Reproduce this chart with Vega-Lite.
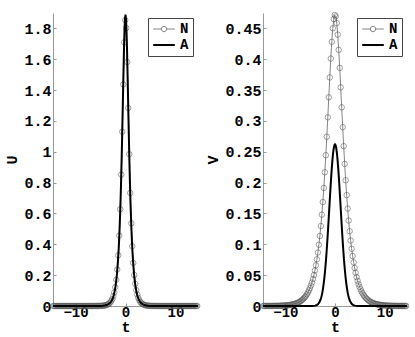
{
  "$schema": "https://vega.github.io/schema/vega-lite/v6.json",
  "background": "white",
  "padding": {"left": 4, "top": 10, "right": 3, "bottom": 1},
  "config": {
    "view": {"stroke": null},
    "font": "Liberation Mono",
    "axis": {
      "labelFont": "Liberation Mono", "labelFontWeight": "bold", "labelFontSize": 15, "labelColor": "black",
      "titleFont": "Liberation Mono", "titleFontWeight": "bold", "titleFontSize": 15, "titleColor": "black",
      "domainColor": "#999999", "tickColor": "#999999", "tickSize": -3, "grid": false, "labelPadding": 5,
      "labelFlush": false, "format": "~g"
    },
    "axisX": {"labelPadding": 2, "titlePadding": 0, "labelFontSize": 14, "format": "d"},
    "legend": {
      "orient": "top-right", "offset": 5, "strokeColor": "#444444", "fillColor": "white", "padding": 4,
      "rowPadding": 2, "labelFont": "Liberation Mono", "labelFontWeight": "bold", "labelFontSize": 14,
      "labelColor": "black", "symbolSize": 144, "labelOffset": 9, "symbolOffset": 5
    }
  },
  "datasets": {
    "N": [
      {"t":-14.45,"U":0,"V":0.0001},{"t":-14.25,"U":0,"V":0.0001},{"t":-14.05,"U":0,"V":0.0001},{"t":-13.85,"U":0,"V":0.0001},
      {"t":-13.65,"U":0,"V":0.0001},{"t":-13.45,"U":0,"V":0.0001},{"t":-13.25,"U":0,"V":0.0001},{"t":-13.05,"U":0,"V":0.0001},
      {"t":-12.85,"U":0,"V":0.0001},{"t":-12.65,"U":0,"V":0.0001},{"t":-12.45,"U":0,"V":0.0001},{"t":-12.25,"U":0,"V":0.0002},
      {"t":-12.05,"U":0,"V":0.0002},{"t":-11.85,"U":0,"V":0.0002},{"t":-11.65,"U":0,"V":0.0003},{"t":-11.45,"U":0,"V":0.0003},
      {"t":-11.25,"U":0,"V":0.0004},{"t":-11.05,"U":0,"V":0.0004},{"t":-10.85,"U":0,"V":0.0005},{"t":-10.65,"U":0,"V":0.0006},
      {"t":-10.45,"U":0,"V":0.0007},{"t":-10.25,"U":0,"V":0.0008},{"t":-10.05,"U":0,"V":0.0009},{"t":-9.85,"U":0,"V":0.0010},
      {"t":-9.65,"U":0,"V":0.0012},{"t":-9.45,"U":0,"V":0.0014},{"t":-9.25,"U":0,"V":0.0016},{"t":-9.05,"U":0,"V":0.0018},
      {"t":-8.85,"U":0,"V":0.0021},{"t":-8.65,"U":0,"V":0.0024},{"t":-8.45,"U":0,"V":0.0028},{"t":-8.25,"U":0,"V":0.0032},
      {"t":-8.05,"U":0,"V":0.0036},{"t":-7.85,"U":0,"V":0.0042},{"t":-7.65,"U":0,"V":0.0048},{"t":-7.45,"U":0,"V":0.0055},
      {"t":-7.25,"U":0,"V":0.0063},{"t":-7.05,"U":0,"V":0.0073},{"t":-6.85,"U":0,"V":0.0083},{"t":-6.65,"U":0.0001,"V":0.0096},
      {"t":-6.45,"U":0.0001,"V":0.0110},{"t":-6.25,"U":0.0001,"V":0.0126},{"t":-6.05,"U":0.0002,"V":0.0145},{"t":-5.85,"U":0.0002,"V":0.0166},
      {"t":-5.65,"U":0.0003,"V":0.0191},{"t":-5.45,"U":0.0004,"V":0.0219},{"t":-5.25,"U":0.0006,"V":0.0252},{"t":-5.05,"U":0.0008,"V":0.0289},
      {"t":-4.85,"U":0.0011,"V":0.0332},{"t":-4.65,"U":0.0016,"V":0.0381},{"t":-4.45,"U":0.0022,"V":0.0437},{"t":-4.25,"U":0.0031,"V":0.0502},
      {"t":-4.05,"U":0.0044,"V":0.0576},{"t":-3.85,"U":0.0061,"V":0.0660},{"t":-3.65,"U":0.0085,"V":0.0757},{"t":-3.45,"U":0.0118,"V":0.0867},
      {"t":-3.25,"U":0.0165,"V":0.0992},{"t":-3.05,"U":0.0230,"V":0.1135},{"t":-2.85,"U":0.0322,"V":0.1297},{"t":-2.65,"U":0.0449,"V":0.1480},
      {"t":-2.45,"U":0.0627,"V":0.1685},{"t":-2.25,"U":0.0875,"V":0.1914},{"t":-2.05,"U":0.122,"V":0.2168},{"t":-1.85,"U":0.170,"V":0.2445},
      {"t":-1.65,"U":0.237,"V":0.2744},{"t":-1.45,"U":0.329,"V":0.3059},{"t":-1.25,"U":0.456,"V":0.3383},{"t":-1.05,"U":0.628,"V":0.3705},
      {"t":-0.85,"U":0.852,"V":0.4011},{"t":-0.65,"U":1.130,"V":0.4283},{"t":-0.45,"U":1.437,"V":0.4502},{"t":-0.25,"U":1.710,"V":0.4651},
      {"t":-0.05,"U":1.854,"V":0.4717},
      {"t":0.15,"U":1.803,"V":0.4695},{"t":0.35,"U":1.582,"V":0.4586},{"t":0.55,"U":1.284,"V":0.4400},{"t":0.75,"U":0.985,"V":0.4152},
      {"t":0.95,"U":0.733,"V":0.3861},{"t":1.15,"U":0.536,"V":0.3545},{"t":1.35,"U":0.388,"V":0.3221},{"t":1.55,"U":0.279,"V":0.2899},
      {"t":1.75,"U":0.201,"V":0.2592},{"t":1.95,"U":0.144,"V":0.2304},{"t":2.15,"U":0.103,"V":0.2038},{"t":2.35,"U":0.0740,"V":0.1797},
      {"t":2.55,"U":0.0530,"V":0.1579},{"t":2.75,"U":0.0380,"V":0.1386},{"t":2.95,"U":0.0272,"V":0.1213},{"t":3.15,"U":0.0195,"V":0.1061},
      {"t":3.35,"U":0.0140,"V":0.0928},{"t":3.55,"U":0.0100,"V":0.0810},{"t":3.75,"U":0.0072,"V":0.0707},{"t":3.95,"U":0.0051,"V":0.0617},
      {"t":4.15,"U":0.0037,"V":0.0538},{"t":4.35,"U":0.0026,"V":0.0468},{"t":4.55,"U":0.0019,"V":0.0408},{"t":4.75,"U":0.0014,"V":0.0355},
      {"t":4.95,"U":0.0010,"V":0.0310},{"t":5.15,"U":0.0007,"V":0.0270},{"t":5.35,"U":0.0005,"V":0.0235},{"t":5.55,"U":0.0004,"V":0.0205},
      {"t":5.75,"U":0.0003,"V":0.0178},{"t":5.95,"U":0.0002,"V":0.0155},{"t":6.15,"U":0.0001,"V":0.0135},{"t":6.35,"U":0.0001,"V":0.0118},
      {"t":6.55,"U":0.0001,"V":0.0103},{"t":6.75,"U":0,"V":0.0089},{"t":6.95,"U":0,"V":0.0078},{"t":7.15,"U":0,"V":0.0068},
      {"t":7.35,"U":0,"V":0.0059},{"t":7.55,"U":0,"V":0.0051},{"t":7.75,"U":0,"V":0.0045},{"t":7.95,"U":0,"V":0.0039},
      {"t":8.15,"U":0,"V":0.0034},{"t":8.35,"U":0,"V":0.0030},{"t":8.55,"U":0,"V":0.0026},{"t":8.75,"U":0,"V":0.0022},
      {"t":8.95,"U":0,"V":0.0020},{"t":9.15,"U":0,"V":0.0017},{"t":9.35,"U":0,"V":0.0015},{"t":9.55,"U":0,"V":0.0013},
      {"t":9.75,"U":0,"V":0.0011},{"t":9.95,"U":0,"V":0.0010},{"t":10.15,"U":0,"V":0.0008},{"t":10.35,"U":0,"V":0.0007},
      {"t":10.55,"U":0,"V":0.0006},{"t":10.75,"U":0,"V":0.0005},{"t":10.95,"U":0,"V":0.0005},{"t":11.15,"U":0,"V":0.0004},
      {"t":11.35,"U":0,"V":0.0003},{"t":11.55,"U":0,"V":0.0003},{"t":11.75,"U":0,"V":0.0002},{"t":11.95,"U":0,"V":0.0002},
      {"t":12.15,"U":0,"V":0.0002},{"t":12.35,"U":0,"V":0.0002},{"t":12.55,"U":0,"V":0.0001},{"t":12.75,"U":0,"V":0.0001},
      {"t":12.95,"U":0,"V":0.0001},{"t":13.15,"U":0,"V":0.0001},{"t":13.35,"U":0,"V":0.0001},{"t":13.55,"U":0,"V":0.0001},
      {"t":13.75,"U":0,"V":0.0001},{"t":13.95,"U":0,"V":0.0001},{"t":14.15,"U":0,"V":0.0001},{"t":14.35,"U":0,"V":0.0001}
    ],
    "A": [
      {"t":-14.5,"U":0,"V":0},{"t":-10,"U":0,"V":0},{"t":-8,"U":0,"V":0},{"t":-6,"U":0.0001,"V":0},
      {"t":-5,"U":0.0008,"V":0},{"t":-4.5,"U":0.0020,"V":0.0001},{"t":-4,"U":0.0043,"V":0.0006},{"t":-3.8,"U":0.0060,"V":0.0011},
      {"t":-3.6,"U":0.0085,"V":0.0019},{"t":-3.4,"U":0.0119,"V":0.0032},{"t":-3.2,"U":0.0167,"V":0.0053},{"t":-3.0,"U":0.0234,"V":0.0085},
      {"t":-2.9,"U":0.0277,"V":0.0106},{"t":-2.8,"U":0.0328,"V":0.0132},{"t":-2.7,"U":0.0389,"V":0.0163},{"t":-2.6,"U":0.0461,"V":0.0199},
      {"t":-2.5,"U":0.0546,"V":0.0242},{"t":-2.4,"U":0.0647,"V":0.0292},{"t":-2.3,"U":0.0766,"V":0.0349},{"t":-2.2,"U":0.0908,"V":0.0414},
      {"t":-2.1,"U":0.108,"V":0.0488},{"t":-2.0,"U":0.127,"V":0.0571},{"t":-1.9,"U":0.151,"V":0.0662},{"t":-1.8,"U":0.179,"V":0.0762},
      {"t":-1.7,"U":0.211,"V":0.0871},{"t":-1.6,"U":0.250,"V":0.0988},{"t":-1.5,"U":0.296,"V":0.1112},{"t":-1.4,"U":0.349,"V":0.1242},
      {"t":-1.3,"U":0.412,"V":0.1376},{"t":-1.2,"U":0.486,"V":0.1514},{"t":-1.1,"U":0.572,"V":0.1652},{"t":-1.0,"U":0.671,"V":0.1790},
      {"t":-0.9,"U":0.785,"V":0.1924},{"t":-0.8,"U":0.914,"V":0.2053},{"t":-0.7,"U":1.056,"V":0.2174},{"t":-0.6,"U":1.209,"V":0.2284},
      {"t":-0.5,"U":1.368,"V":0.2382},{"t":-0.4,"U":1.526,"V":0.2465},{"t":-0.3,"U":1.669,"V":0.2532},{"t":-0.2,"U":1.786,"V":0.2580},
      {"t":-0.1,"U":1.863,"V":0.2610},{"t":0,"U":1.89,"V":0.262},
      {"t":0.1,"U":1.863,"V":0.2610},{"t":0.2,"U":1.786,"V":0.2580},{"t":0.3,"U":1.669,"V":0.2532},{"t":0.4,"U":1.526,"V":0.2465},
      {"t":0.5,"U":1.368,"V":0.2382},{"t":0.6,"U":1.209,"V":0.2284},{"t":0.7,"U":1.056,"V":0.2174},{"t":0.8,"U":0.914,"V":0.2053},
      {"t":0.9,"U":0.785,"V":0.1924},{"t":1.0,"U":0.671,"V":0.1790},{"t":1.1,"U":0.572,"V":0.1652},{"t":1.2,"U":0.486,"V":0.1514},
      {"t":1.3,"U":0.412,"V":0.1376},{"t":1.4,"U":0.349,"V":0.1242},{"t":1.5,"U":0.296,"V":0.1112},{"t":1.6,"U":0.250,"V":0.0988},
      {"t":1.7,"U":0.211,"V":0.0871},{"t":1.8,"U":0.179,"V":0.0762},{"t":1.9,"U":0.151,"V":0.0662},{"t":2.0,"U":0.127,"V":0.0571},
      {"t":2.1,"U":0.108,"V":0.0488},{"t":2.2,"U":0.0908,"V":0.0414},{"t":2.3,"U":0.0766,"V":0.0349},{"t":2.4,"U":0.0647,"V":0.0292},
      {"t":2.5,"U":0.0546,"V":0.0242},{"t":2.6,"U":0.0461,"V":0.0199},{"t":2.7,"U":0.0389,"V":0.0163},{"t":2.8,"U":0.0328,"V":0.0132},
      {"t":2.9,"U":0.0277,"V":0.0106},{"t":3.0,"U":0.0234,"V":0.0085},{"t":3.2,"U":0.0167,"V":0.0053},{"t":3.4,"U":0.0119,"V":0.0032},
      {"t":3.6,"U":0.0085,"V":0.0019},{"t":3.8,"U":0.0060,"V":0.0011},{"t":4,"U":0.0043,"V":0.0006},{"t":4.5,"U":0.0020,"V":0.0001},
      {"t":5,"U":0.0008,"V":0},{"t":6,"U":0.0001,"V":0},{"t":8,"U":0,"V":0},{"t":10,"U":0,"V":0},{"t":14.5,"U":0,"V":0}
    ]
  },
  "spacing": 3,
  "resolve": {"scale": {"stroke": "independent"}, "legend": {"stroke": "independent"}},
  "hconcat": [
    {
      "width": 145, "height": 293,
      "encoding": {
        "x": {"field": "t", "type": "quantitative", "scale": {"domain": [-14.5, 14.5], "nice": false, "zero": false}, "axis": {"values": [-10, 0, 10], "title": "t"}},
        "y": {"field": "U", "type": "quantitative", "scale": {"domain": [0, 1.9], "nice": false}, "axis": {"values": [0, 0.2, 0.4, 0.6, 0.8, 1, 1.2, 1.4, 1.6, 1.8], "title": "U"}}
      },
      "layer": [
        {"data": {"name": "N"}, "mark": {"type": "line", "strokeWidth": 0.8}, "encoding": {
          "stroke": {"datum": "N", "scale": {"domain": ["N", "A"], "range": ["#666666", "#000000"]},
            "legend": {"title": null, "encode": {"symbols": {"update": {
              "shape": {"signal": "datum.value === 'N' ? 'M-1.8,0H-0.45M0.45,0H1.8M0.45,0A0.45,0.45,0,1,1,-0.45,0A0.45,0.45,0,1,1,0.45,0' : 'M-1.8,0H1.8'"},
              "strokeWidth": {"signal": "datum.value === 'A' ? 2 : 0.8"},
              "fill": {"value": "transparent"}, "opacity": {"value": 1}}}}}}}},
        {"data": {"name": "N"}, "mark": {"type": "point", "shape": "circle", "filled": false, "size": 30, "strokeWidth": 0.8, "color": "#555555"}},
        {"data": {"name": "A"}, "mark": {"type": "line", "strokeWidth": 2}, "encoding": {"stroke": {"datum": "A"}}}
      ]
    },
    {
      "width": 144, "height": 293,
      "encoding": {
        "x": {"field": "t", "type": "quantitative", "scale": {"domain": [-14.5, 14.5], "nice": false, "zero": false}, "axis": {"values": [-10, 0, 10], "title": "t"}},
        "y": {"field": "V", "type": "quantitative", "scale": {"domain": [0, 0.475], "nice": false}, "axis": {"values": [0, 0.05, 0.1, 0.15, 0.2, 0.25, 0.3, 0.35, 0.4, 0.45], "title": "V"}}
      },
      "layer": [
        {"data": {"name": "N"}, "mark": {"type": "line", "strokeWidth": 0.8}, "encoding": {
          "stroke": {"datum": "N", "scale": {"domain": ["N", "A"], "range": ["#666666", "#000000"]},
            "legend": {"title": null, "encode": {"symbols": {"update": {
              "shape": {"signal": "datum.value === 'N' ? 'M-1.8,0H-0.45M0.45,0H1.8M0.45,0A0.45,0.45,0,1,1,-0.45,0A0.45,0.45,0,1,1,0.45,0' : 'M-1.8,0H1.8'"},
              "strokeWidth": {"signal": "datum.value === 'A' ? 2 : 0.8"},
              "fill": {"value": "transparent"}, "opacity": {"value": 1}}}}}}}},
        {"data": {"name": "N"}, "mark": {"type": "point", "shape": "circle", "filled": false, "size": 30, "strokeWidth": 0.8, "color": "#555555"}},
        {"data": {"name": "A"}, "mark": {"type": "line", "strokeWidth": 2}, "encoding": {"stroke": {"datum": "A"}}}
      ]
    }
  ]
}
